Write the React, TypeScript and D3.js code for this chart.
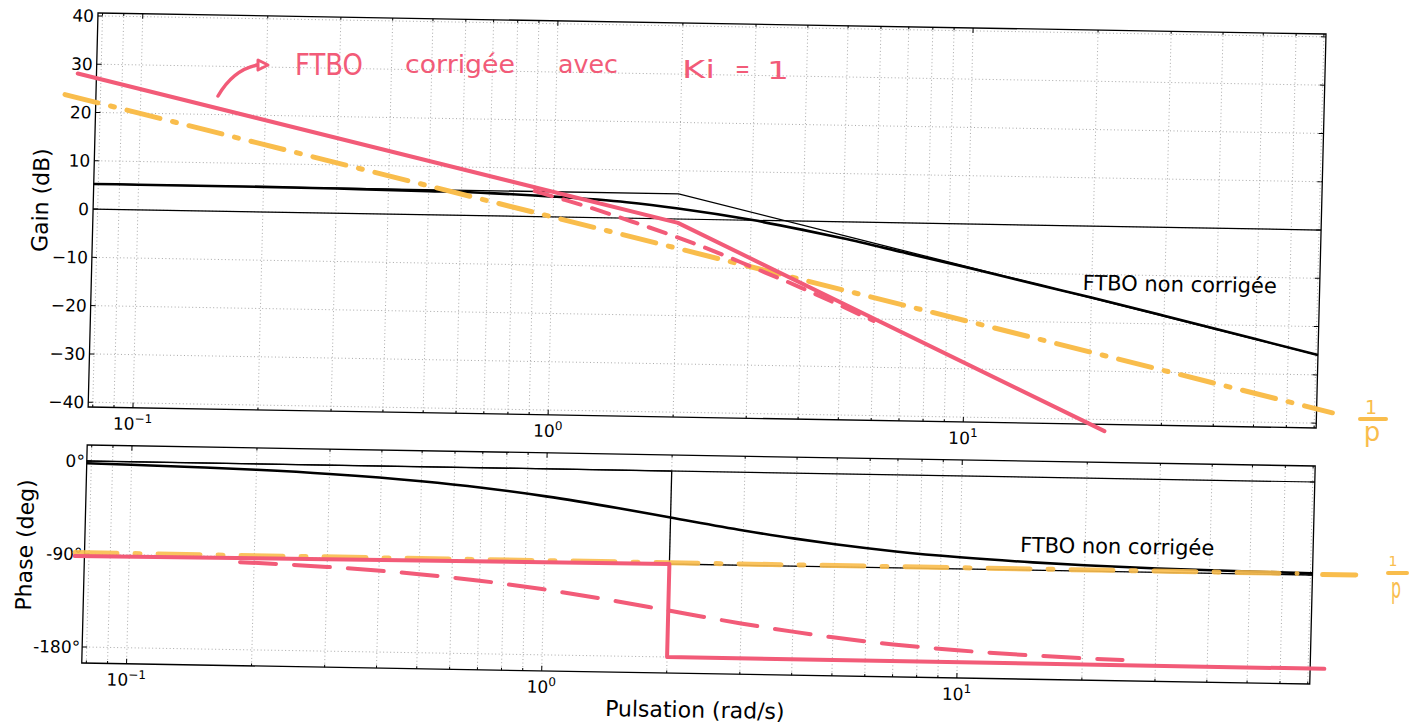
import React from 'react';
import * as d3 from 'd3';

// pulsations (rad/s) where the printed curves were read
const omega = [0.078, 0.1, 0.15, 0.2, 0.3, 0.5, 0.7, 1, 1.5, 2, 3, 4, 5, 7, 10, 15, 20, 30, 50, 70.8];
// FTBO non corrigée (black, printed)
const gainFTBO = [5.2, 5.2, 5.2, 5.2, 5.1, 4.9, 4.7, 4.2, 3.3, 2.2, 0.1, -1.8, -3.4, -6.1, -9.0, -12.4, -14.8, -18.3, -22.8, -25.9];
const phaseFTBO = [-2.2, -2.9, -4.3, -5.7, -8.5, -14.0, -19.3, -26.6, -36.9, -45.0, -56.3, -63.4, -68.2, -74.1, -78.7, -82.4, -84.3, -86.2, -87.7, -88.4];

// printed asymptotes
const asymGainOmega = [0.078, 2, 70.8];
const asymGain = [5.2, 5.2, -25.9];
const asymPhaseOmega = [0.078, 2, 2, 70.8];
const asymPhase = [0, 0, -90, -90];

// 1/p drawn by hand (orange)
const integOmega = [0.0657, 77.3];
const integGain = [23.6, -37.8];
const integPhaseOmega = [0.074, 65];
const integPhase = [-88.8, -88.8];
const integMarkOmega = [74.9, 90];
const integMarkPhase = [-89.3, -89.3];

// FTBO corrigée Ki = 1 drawn by hand (pink): asymptotes solid, real curve dashed
const corrAsymOmega = [0.0703, 2, 21.9];
const corrAsymGain = [28.0, -0.8, -42.4];
const corrGainOmega = [0.9, 1, 1.2, 1.5, 2, 2.5, 3, 4, 5, 6];
const corrGain = [5.3, 4.2, 2.3, -0.3, -3.8, -6.8, -9.5, -13.8, -17.4, -20.4];
const corrAsymPhaseOmega = [0.0739, 2, 2, 76.6];
const corrAsymPhase = [-92, -90, -180, -180.6];
const corrPhaseOmega = [0.185, 0.3, 0.5, 0.7, 1, 1.5, 2, 3, 4, 5, 7, 10, 15, 20, 25];
const corrPhase = [-95.3, -98.5, -104.0, -109.3, -116.6, -126.9, -135.0, -146.3, -153.4, -158.2, -164.1, -168.7, -172.4, -174.3, -175.4];

const gainTicks = [-40, -30, -20, -10, 0, 10, 20, 30, 40];
const phaseTicks = [0, -90, -180];
const phaseTickLabels = ['0°', '-90°', '-180°'];
const decades = [-1, 0, 1];

const PINK = '#f25b78';
const ORANGE = '#f9bd4c';

const L = 98, R = 1326, GT = 13, GB = 407, PT = 445, PB = 663;

const zip = (a: number[], b: number[]) => a.map((v, i) => [v, b[i]] as [number, number]);

const App = () => {
  const x = d3.scaleLog().domain([0.078, 70.8]).range([L, R]);
  const yG = d3.scaleLinear().domain([-41, 40.6]).range([GB, GT]);
  const yP = d3.scaleLinear().domain([-195.5, 15.5]).range([PB, PT]);

  const gLine = d3.line<[number, number]>().x(d => x(d[0])).y(d => yG(d[1]));
  const pLine = d3.line<[number, number]>().x(d => x(d[0])).y(d => yP(d[1]));
  const gCurve = d3.line<[number, number]>().x(d => x(d[0])).y(d => yG(d[1])).curve(d3.curveMonotoneX);
  const pCurve = d3.line<[number, number]>().x(d => x(d[0])).y(d => yP(d[1])).curve(d3.curveMonotoneX);

  const minor = d3.range(-2, 2)
    .flatMap(d => d3.range(1, 10).map(k => k * Math.pow(10, d)))
    .filter(v => v >= 0.078 && v <= 70.8);
  const majors = decades.map(d => Math.pow(10, d));
  const isMajor = (v: number) => majors.some(m => Math.abs(m - v) < 1e-9);
  const grid = { stroke: '#a0a0a0', strokeWidth: 0.9, strokeDasharray: '1,2.5' };

  const xAxis = (top: number, bottom: number) => (
    <g>
      {minor.map((v, i) => (
        <g key={i}>
          <line x1={x(v)} x2={x(v)} y1={top} y2={bottom} {...grid} />
          <line x1={x(v)} x2={x(v)} y1={bottom} y2={bottom - (isMajor(v) ? 5 : 2.5)} stroke="#000" />
          <line x1={x(v)} x2={x(v)} y1={top} y2={top + (isMajor(v) ? 5 : 2.5)} stroke="#000" />
        </g>
      ))}
      {decades.map(d => (
        <text key={d} x={x(Math.pow(10, d))} y={bottom + 22} fontSize={17} textAnchor="middle">
          10<tspan dy={-7} fontSize={12}>{d < 0 ? '\u2212' + Math.abs(d) : d}</tspan>
        </text>
      ))}
    </g>
  );

  return (
    <svg width={1420} height={725} style={{ position: 'absolute', left: 0, top: 0, background: '#fff' }}
      fontFamily="'DejaVu Sans', sans-serif">
      <g transform="matrix(1,0.0171,-0.025,1,0.325,-1.676)">
        {/* gain */}
        {gainTicks.map(t => (
          <g key={t}>
            <line x1={L} x2={R} y1={yG(t)} y2={yG(t)} {...grid} />
            <line x1={L} x2={L + 5} y1={yG(t)} y2={yG(t)} stroke="#000" />
            <line x1={R} x2={R - 5} y1={yG(t)} y2={yG(t)} stroke="#000" />
            <text x={L - 4} y={yG(t)} dy="0.36em" fontSize={17} textAnchor="end">
              {t < 0 ? '\u2212' + Math.abs(t) : t}
            </text>
          </g>
        ))}
        {xAxis(GT, GB)}
        <line x1={L} x2={R} y1={yG(0)} y2={yG(0)} stroke="#000" strokeWidth={1.2} />
        <path d={gLine(zip(asymGainOmega, asymGain)) || ''} fill="none" stroke="#000" strokeWidth={1.3} />
        <path d={gCurve(zip(omega, gainFTBO)) || ''} fill="none" stroke="#000" strokeWidth={2.6} />
        <rect x={L} y={GT} width={R - L} height={GB - GT} fill="none" stroke="#000" strokeWidth={1.3} />
        <text x={1089} y={273} fontSize={21}>FTBO non corrigée</text>
        <text transform={`translate(53,201) rotate(-90)`} fontSize={22} textAnchor="middle">Gain (dB)</text>

        {/* phase */}
        {phaseTicks.map((t, i) => (
          <g key={t}>
            <line x1={L} x2={R} y1={yP(t)} y2={yP(t)} {...grid} />
            <line x1={L} x2={L + 5} y1={yP(t)} y2={yP(t)} stroke="#000" />
            <line x1={R} x2={R - 5} y1={yP(t)} y2={yP(t)} stroke="#000" />
            <text x={L - 2} y={yP(t)} dy="0.36em" fontSize={17} textAnchor="end">{phaseTickLabels[i]}</text>
          </g>
        ))}
        {xAxis(PT, PB)}
        <line x1={L} x2={R} y1={yP(0)} y2={yP(0)} stroke="#000" strokeWidth={1.2} />
        <path d={pLine(zip(asymPhaseOmega, asymPhase)) || ''} fill="none" stroke="#000" strokeWidth={1.3} />
        <path d={pCurve(zip(omega, phaseFTBO)) || ''} fill="none" stroke="#000" strokeWidth={2.6} />
        <rect x={L} y={PT} width={R - L} height={PB - PT} fill="none" stroke="#000" strokeWidth={1.3} />
        <text x={1033} y={536} fontSize={21}>FTBO non corrigée</text>
        <text transform={`translate(46,546) rotate(-90)`} fontSize={22} textAnchor="middle">Phase (deg)</text>
        <text x={712} y={707} fontSize={22} textAnchor="middle">Pulsation (rad/s)</text>

        {/* hand-drawn additions */}
        <path d={gLine(zip(integOmega, integGain)) || ''} fill="none" stroke={ORANGE} strokeWidth={5}
          strokeLinecap="round" strokeDasharray="34 13 4 13" />
        <path d={pLine(zip(integPhaseOmega, integPhase)) || ''} fill="none" stroke={ORANGE} strokeWidth={5}
          strokeLinecap="round" strokeDasharray="42 18 5 18" opacity={0.9} />
        <path d={pLine(zip(integMarkOmega, integMarkPhase)) || ''} fill="none" stroke={ORANGE} strokeWidth={5}
          strokeLinecap="round" />
        <path d={gLine(zip(corrAsymOmega, corrAsymGain)) || ''} fill="none" stroke={PINK} strokeWidth={4}
          strokeLinecap="round" strokeLinejoin="round" />
        <path d={gCurve(zip(corrGainOmega, corrGain)) || ''} fill="none" stroke={PINK} strokeWidth={4}
          strokeLinecap="round" strokeDasharray="18 12" />
        <path d={pLine(zip(corrAsymPhaseOmega, corrAsymPhase)) || ''} fill="none" stroke={PINK} strokeWidth={4}
          strokeLinecap="round" strokeLinejoin="round" />
        <path d={pCurve(zip(corrPhaseOmega, corrPhase)) || ''} fill="none" stroke={PINK} strokeWidth={4}
          strokeLinecap="round" strokeDasharray="36 18" />
      </g>

      {/* handwritten notes */}
      <path d="M218,96 C226,82 238,69 257,65" fill="none" stroke={PINK} strokeWidth={3.5} strokeLinecap="round" />
      <path d="M258,60 L268,65 L258,70 Z" fill="none" stroke={PINK} strokeWidth={3} strokeLinejoin="round" />
      <g fill={PINK}>
        <text x={295} y={75} fontSize={30} textLength={68} lengthAdjust="spacingAndGlyphs">FTBO</text>
        <text x={405} y={73} fontSize={25} textLength={110} lengthAdjust="spacingAndGlyphs">corrigée</text>
        <text x={558} y={73} fontSize={25} textLength={60} lengthAdjust="spacingAndGlyphs">avec</text>
        <text x={682} y={78} fontSize={25} textLength={33} lengthAdjust="spacingAndGlyphs">Ki</text>
        <text x={735} y={77} fontSize={24} textLength={15} lengthAdjust="spacingAndGlyphs">=</text>
        <text x={767} y={79} fontSize={25} textLength={22} lengthAdjust="spacingAndGlyphs">1</text>
      </g>
      <g fill={ORANGE}>
        <text x={1371} y={414} fontSize={19} textAnchor="middle">1</text>
        <line x1={1360} x2={1386} y1={419} y2={419} stroke={ORANGE} strokeWidth={4} strokeLinecap="round" />
        <text x={1372} y={441} fontSize={26} textAnchor="middle">p</text>
        <text x={1393} y={566} fontSize={14} textAnchor="middle">1</text>
        <line x1={1388} x2={1407} y1={573} y2={573} stroke={ORANGE} strokeWidth={4} strokeLinecap="round" />
        <text x={1396} y={598} fontSize={28} textAnchor="middle" textLength={10} lengthAdjust="spacingAndGlyphs">p</text>
      </g>
    </svg>
  );
};

export default App;
